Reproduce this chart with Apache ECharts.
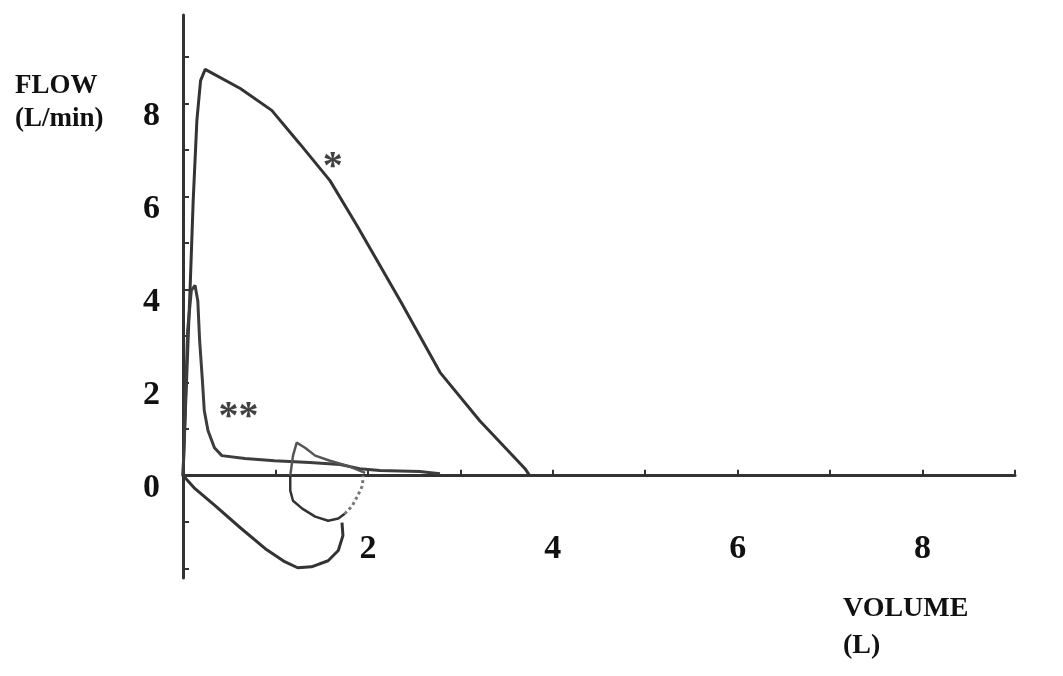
<!DOCTYPE html>
<html>
<head>
<meta charset="utf-8">
<script src="https://cdn.jsdelivr.net/npm/echarts@6/dist/echarts.min.js"></script>
<style>
html,body{margin:0;padding:0;background:#fff;}
#chart{width:1063px;height:676px;}
</style>
</head>
<body>
<div id="chart"></div>
<script>
// Axis ticks / labels
const xTickValues = [1, 2, 3, 4, 5, 6, 7, 8, 9];
const xLabelValues = [2, 4, 6, 8];
const yTickValues = [-2, -1, 0, 1, 2, 3, 4, 5, 6, 7, 8, 9];
const yLabelValues = [0, 2, 4, 6, 8];

// Curve "*" expiratory limb (volume L, flow L/min)
const starVolume = [0, 0.03, 0.08, 0.11, 0.15, 0.19, 0.24, 0.62, 0.96, 1.26, 1.59, 1.88, 2.35, 2.78, 3.21, 3.70, 3.75];
const starFlow   = [0, 1.61, 4.20, 5.90, 7.63, 8.49, 8.73, 8.32, 7.85, 7.14, 6.34, 5.38, 3.76, 2.22, 1.18, 0.15, 0];

// Large inspiratory loop below the axis
const inspVolume = [0, 0.03, 0.13, 0.35, 0.62, 0.89, 1.10, 1.24, 1.39, 1.57, 1.68, 1.73, 1.72];
const inspFlow   = [0, -0.06, -0.28, -0.65, -1.12, -1.57, -1.85, -1.98, -1.96, -1.83, -1.61, -1.29, -1.01];

// Curve "**" expiratory limb
const dstarVolume = [0, 0.02, 0.05, 0.09, 0.13, 0.16, 0.18, 0.21, 0.23, 0.27, 0.34, 0.42, 0.67, 0.99, 1.37, 1.70, 1.91, 2.13, 2.56, 2.78];
const dstarFlow   = [0, 1.18, 3.12, 3.98, 4.09, 3.76, 2.90, 2.04, 1.40, 0.97, 0.60, 0.43, 0.37, 0.32, 0.28, 0.24, 0.15, 0.11, 0.09, 0.04];

// Small "**" loop below the axis
const smallLoopVolume = [1.16, 1.16, 1.19, 1.29, 1.43, 1.57, 1.68, 1.75];
const smallLoopFlow   = [0, -0.32, -0.54, -0.71, -0.88, -0.97, -0.92, -0.82];
// Faint dotted part of the small loop
const dottedVolume = [1.75, 1.83, 1.89, 1.94, 1.95];
const dottedFlow   = [-0.82, -0.65, -0.43, -0.22, 0];
// Hook above the axis
const hookVolume = [1.16, 1.19, 1.23, 1.32, 1.43, 1.59, 1.81, 1.97];
const hookFlow   = [0, 0.43, 0.71, 0.60, 0.43, 0.32, 0.19, 0.06];

// Annotations
const annotationText   = ['*', '**'];
const annotationVolume = [1.62, 0.60];
const annotationFlow   = [6.62, 1.24];

const pairs = (xs, ys) => xs.map((x, i) => [x, ys[i]]);

const serif = '"Liberation Serif", "DejaVu Serif", serif';
const ink = '#333333';

const lineSeries = (data, extra) => Object.assign({
  type: 'line',
  data: data,
  showSymbol: false,
  smooth: false,
  silent: true,
  lineStyle: { color: ink, width: 3 }
}, extra || {});

const chart = echarts.init(document.getElementById('chart'), null, { renderer: 'canvas' });

chart.setOption({
  backgroundColor: '#ffffff',
  animation: false,
  grid: { left: 183, right: 48, top: 15, bottom: 98 },
  xAxis: {
    type: 'value',
    min: 0,
    max: 9,
    interval: 1,
    axisLine: { onZero: true, lineStyle: { color: ink, width: 3 } },
    axisTick: { show: true, inside: true, length: 6, lineStyle: { color: ink, width: 2 }, customValues: xTickValues },
    axisLabel: {
      customValues: xLabelValues,
      margin: -46,
      color: '#111',
      fontFamily: serif,
      fontWeight: 'bold',
      fontSize: 34
    },
    splitLine: { show: false }
  },
  yAxis: {
    type: 'value',
    min: -2.2,
    max: 9.9,
    axisLine: { onZero: false, lineStyle: { color: ink, width: 3 } },
    axisTick: { show: true, inside: true, length: 6, lineStyle: { color: ink, width: 2 }, customValues: yTickValues },
    axisLabel: {
      customValues: yLabelValues,
      margin: 23,
      color: '#111',
      fontFamily: serif,
      fontWeight: 'bold',
      fontSize: 34,
      verticalAlign: 'top',
      lineHeight: 26
    },
    splitLine: { show: false }
  },
  graphic: [
    { type: 'text', left: 15, top: 70, style: { text: 'FLOW\n(L/min)', font: 'bold 27px ' + serif, fill: '#111', lineHeight: 33 } },
    { type: 'text', left: 843, top: 590, style: { text: 'VOLUME\n(L)', font: 'bold 28px ' + serif, fill: '#111', lineHeight: 37 } }
  ],
  series: [
    lineSeries(pairs(starVolume, starFlow)),
    lineSeries(pairs(inspVolume, inspFlow)),
    lineSeries(pairs(dstarVolume, dstarFlow), { lineStyle: { color: '#3d3d3d', width: 3 } }),
    lineSeries(pairs(smallLoopVolume, smallLoopFlow), { lineStyle: { color: ink, width: 2.5 } }),
    lineSeries(pairs(dottedVolume, dottedFlow), { lineStyle: { color: '#777', width: 3, type: 'dotted' } }),
    lineSeries(pairs(hookVolume, hookFlow), { lineStyle: { color: '#555', width: 2.5 } }),
    {
      type: 'scatter',
      silent: true,
      symbolSize: 0,
      data: annotationText.map((t, i) => ({ name: t, value: [annotationVolume[i], annotationFlow[i]] })),
      label: {
        show: true,
        position: 'inside',
        formatter: p => p.name,
        color: '#111',
        fontFamily: serif,
        fontWeight: 'bold',
        fontSize: 40
      }
    }
  ]
});
</script>
</body>
</html>
